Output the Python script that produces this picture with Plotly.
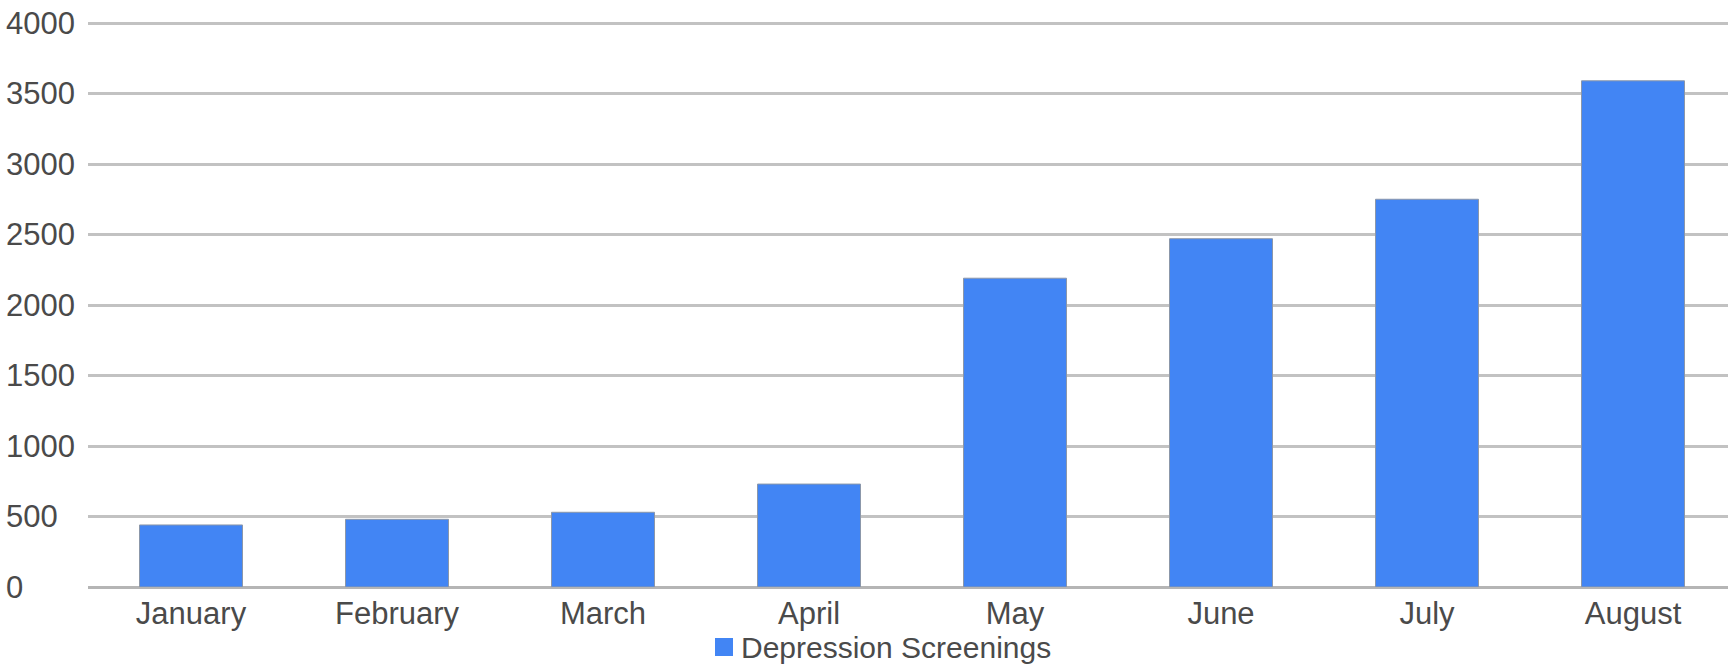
import plotly.graph_objects as go

# Monthly depression screening counts
months = ["January", "February", "March", "April", "May", "June", "July", "August"]
screenings = [440, 480, 530, 730, 2190, 2470, 2750, 3590]
y_ticks = [0, 500, 1000, 1500, 2000, 2500, 3000, 3500, 4000]
series_name = "Depression Screenings"

BAR_COLOR = "#4285f4"
TEXT_COLOR = "#4a4a4a"
GRID_COLOR = "#c2c2c2"
FONT = "Liberation Sans, Arial, sans-serif"
FONT_SIZE = 31
LEGEND_FONT_SIZE = 30

W, H = 1728, 665
ML, MR, MT, MB = 88, 0, 15, 78
plot_w = W - ML - MR
plot_h = H - MT - MB
PX_PER_UNIT = 564 / 4000          # pixel scale of the value axis
y_top = plot_h / PX_PER_UNIT      # small headroom above the 4000 gridline

fig = go.Figure()
fig.add_trace(go.Bar(
    x=months,
    y=screenings,
    name=series_name,
    width=0.5,
    marker=dict(color=BAR_COLOR, line=dict(color="#8b97aa", width=1)),
    showlegend=False,
))

# Left-aligned value labels for the y axis
for t in y_ticks:
    fig.add_annotation(
        x=(4 - ML) / plot_w, xref="paper", xanchor="left",
        y=t, yref="y", yanchor="middle",
        text=str(t), showarrow=False,
        font=dict(family=FONT, size=FONT_SIZE, color=TEXT_COLOR),
    )

# Legend entry below the axis
axis_y = H - MB
fig.add_shape(
    type="rect", xref="paper", yref="paper",
    x0=(715 - ML) / plot_w, x1=(733 - ML) / plot_w,
    y0=-(638 - axis_y) / plot_h, y1=-(656 - axis_y) / plot_h,
    fillcolor=BAR_COLOR, line=dict(width=0),
)
fig.add_annotation(
    x=(739 - ML) / plot_w, xref="paper", xanchor="left",
    y=-(647 - axis_y) / plot_h, yref="paper", yanchor="middle",
    text=series_name, showarrow=False,
    font=dict(family=FONT, size=LEGEND_FONT_SIZE, color=TEXT_COLOR),
)

fig.update_layout(
    width=W, height=H,
    margin=dict(l=ML, r=MR, t=MT, b=MB),
    paper_bgcolor="white", plot_bgcolor="white",
    font=dict(family=FONT, size=FONT_SIZE, color=TEXT_COLOR),
    bargap=0.5,
)
fig.update_xaxes(
    range=[-0.5, -0.5 + plot_w / 206],
    showgrid=False, showline=False, zeroline=False,
    ticks="", ticklabelstandoff=5,
    tickfont=dict(family=FONT, size=FONT_SIZE, color=TEXT_COLOR),
)
fig.update_yaxes(
    range=[0, y_top], tickvals=y_ticks, showticklabels=False,
    showgrid=True, gridcolor=GRID_COLOR, gridwidth=3,
    zeroline=True, zerolinecolor="#b5b5b5", zerolinewidth=3,
    showline=False,
)

fig.write_html("out.html")
